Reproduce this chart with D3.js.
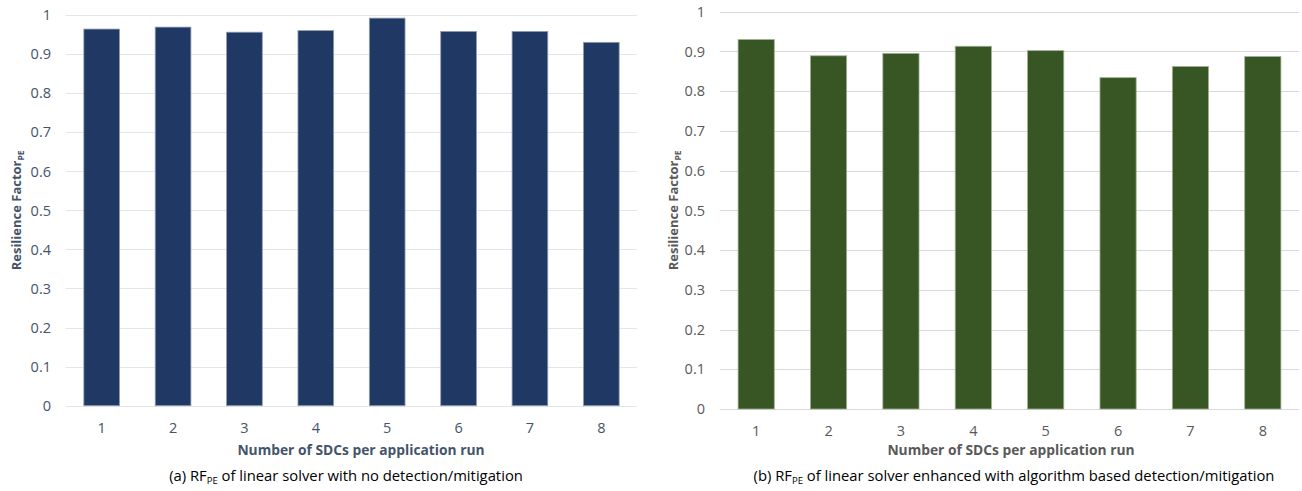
<!DOCTYPE html>
<html>
<head>
<meta charset="utf-8">
<script src="https://cdn.jsdelivr.net/npm/d3@7"></script>
<style>
  html, body { margin: 0; padding: 0; background: #fff; }
  svg { display: block; font-family: "Open Sans", sans-serif; }
</style>
</head>
<body>
<svg id="chart" width="1302" height="491"></svg>
<script>
const categories = ["1", "2", "3", "4", "5", "6", "7", "8"];
const valuesA = [0.964, 0.969, 0.956, 0.960, 0.992, 0.958, 0.958, 0.930];
const valuesB = [0.930, 0.889, 0.895, 0.913, 0.902, 0.834, 0.862, 0.887];
const yTicks = [0, 0.1, 0.2, 0.3, 0.4, 0.5, 0.6, 0.7, 0.8, 0.9, 1];
const xTitle = "Number of SDCs per application run";
const yTitle = "Resilience Factor";
const yTitleSub = "PE";
const captionA = ["(a) RF", "PE", " of linear solver with no detection/mitigation"];
const captionB = ["(b) RF", "PE", " of linear solver enhanced with algorithm based detection/mitigation"];

const svg = d3.select("#chart");

function drawPanel(opt) {
  const g = svg.append("g");
  const x = d3.scaleBand().domain(categories).range([opt.x0, opt.x1])
    .paddingInner(0.5).paddingOuter(0.25);
  const y = d3.scaleLinear().domain([0, 1]).range([opt.y0, opt.y1]);

  g.append("g").selectAll("line").data(yTicks).join("line")
    .attr("x1", opt.x0).attr("x2", opt.x1)
    .attr("y1", d => Math.round(y(d)) + 0.5).attr("y2", d => Math.round(y(d)) + 0.5)
    .attr("stroke", opt.grid).attr("stroke-width", 1);

  g.append("g").selectAll("text").data(yTicks).join("text")
    .attr("x", opt.x0 - 15).attr("y", d => y(d))
    .attr("dy", "0.36em").attr("text-anchor", "end")
    .attr("fill", opt.text).attr("font-size", 14.5)
    .text(d => d3.format("~g")(d));

  g.append("g").selectAll("rect").data(opt.values).join("rect")
    .attr("x", (d, i) => x(categories[i]))
    .attr("width", x.bandwidth())
    .attr("y", d => y(d))
    .attr("height", d => y(0) - y(d))
    .attr("fill", opt.fill)
    .attr("stroke", opt.edge).attr("stroke-width", 0.8);

  g.append("g").selectAll("text").data(categories).join("text")
    .attr("x", d => x(d) + x.bandwidth() / 2).attr("y", opt.y0 + 22)
    .attr("dy", "0.36em").attr("text-anchor", "middle")
    .attr("fill", opt.text).attr("font-size", 14.5)
    .text(d => d);

  g.append("text")
    .attr("x", opt.xTitleX).attr("y", opt.xTitleY)
    .attr("dy", "0.36em").attr("text-anchor", "middle")
    .attr("fill", opt.text).attr("font-size", 13.8).attr("font-weight", "bold")
    .text(xTitle);

  const yt = g.append("text")
    .attr("transform", `translate(${opt.yTitleX},${(opt.y0 + opt.y1) / 2}) rotate(-90)`)
    .attr("text-anchor", "middle").attr("dy", "0.36em")
    .attr("fill", opt.text).attr("font-size", 13).attr("font-weight", "bold");
  yt.append("tspan").text(yTitle);
  yt.append("tspan").attr("font-size", 8.5).attr("dy", "0.35em").text(yTitleSub);

  const cap = svg.append("text")
    .attr("x", opt.capX).attr("y", opt.capY)
    .attr("text-anchor", "middle").attr("fill", "#000").attr("font-size", 14.8);
  cap.append("tspan").text(opt.caption[0]);
  cap.append("tspan").attr("font-size", 9.5).attr("dy", 3).text(opt.caption[1]);
  cap.append("tspan").attr("dy", -3).text(opt.caption[2]);
}

drawPanel({
  values: valuesA, x0: 66, x1: 637, y0: 405.7, y1: 15,
  fill: "#203864", edge: "#8e9cb5", grid: "#e2e5eb", text: "#44546A",
  xTitleX: 361, xTitleY: 450, yTitleX: 16, capX: 346, capY: 481, caption: captionA
});

drawPanel({
  values: valuesB, x0: 720, x1: 1299, y0: 409, y1: 11.7,
  fill: "#375623", edge: "#9db08f", grid: "#d9d9d9", text: "#595959",
  xTitleX: 1011, xTitleY: 450, yTitleX: 673, capX: 1014, capY: 481, caption: captionB
});
</script>
</body>
</html>
